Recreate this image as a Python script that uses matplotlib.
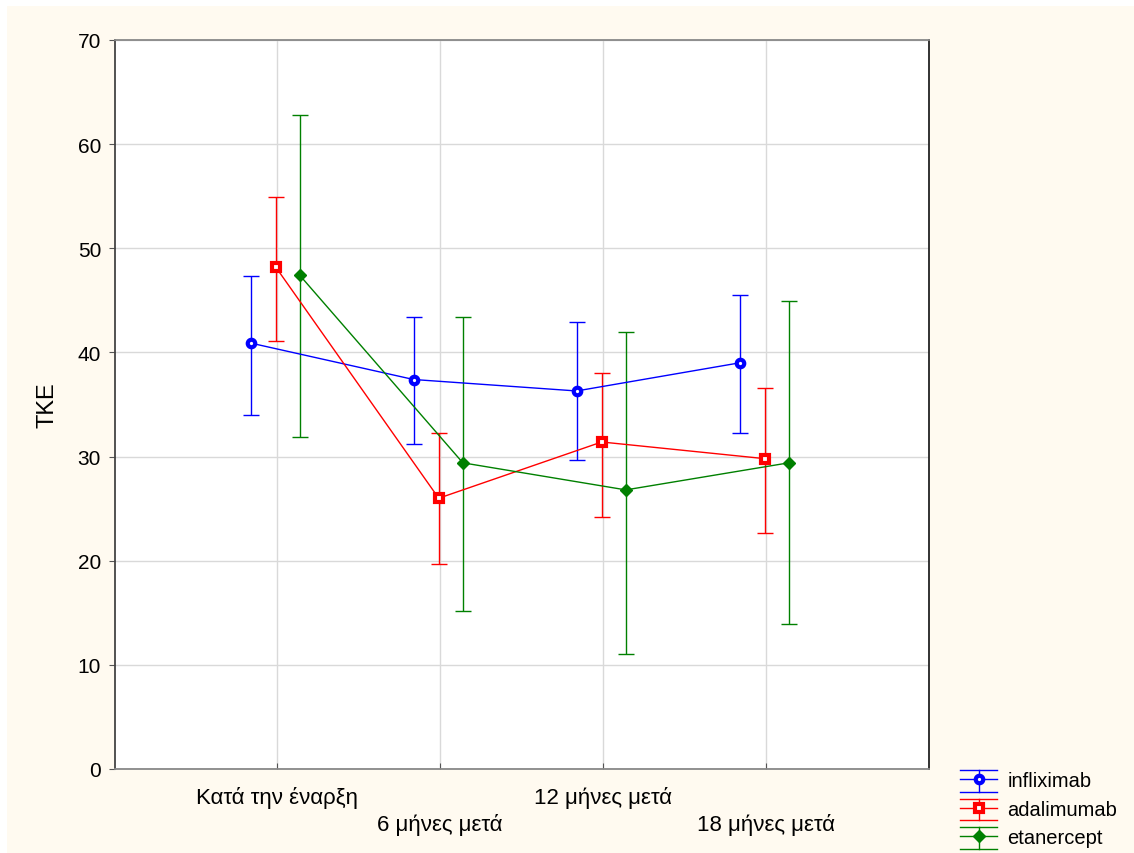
import matplotlib
matplotlib.use("Agg")
import matplotlib.pyplot as plt
import numpy as np
from matplotlib.patches import Rectangle
from matplotlib.lines import Line2D
from matplotlib.legend_handler import HandlerBase

plt.rcParams['font.family'] = ['Liberation Sans', 'DejaVu Sans']

categories = ["Κατά την έναρξη", "6 μήνες μετά", "12 μήνες μετά", "18 μήνες μετά"]
series = ["infliximab", "adalimumab", "etanercept"]

infliximab_mean = [40.9, 37.4, 36.3, 39.0]
infliximab_low = [34.0, 31.2, 29.7, 32.3]
infliximab_high = [47.3, 43.4, 42.9, 45.5]

adalimumab_mean = [48.2, 26.0, 31.4, 29.8]
adalimumab_low = [41.1, 19.7, 24.2, 22.7]
adalimumab_high = [54.9, 32.3, 38.0, 36.6]

etanercept_mean = [47.4, 29.4, 26.8, 29.4]
etanercept_low = [31.9, 15.2, 11.0, 13.9]
etanercept_high = [62.8, 43.4, 42.0, 44.9]

means = [infliximab_mean, adalimumab_mean, etanercept_mean]
lows = [infliximab_low, adalimumab_low, etanercept_low]
highs = [infliximab_high, adalimumab_high, etanercept_high]
colors = ["#0000FF", "#FF0000", "#008000"]
markers = ["o", "s", "D"]
offsets = [-0.162, -0.008, 0.14]


class Proxy:
    def __init__(self, color, marker, mfc, ms, mew):
        self.color, self.marker, self.mfc, self.ms, self.mew = color, marker, mfc, ms, mew


class ErrHandler(HandlerBase):
    def create_artists(self, legend, orig, xdescent, ydescent, width, height, fontsize, trans):
        x0, x1 = -xdescent, -xdescent + width
        yc = -ydescent + height / 2
        top = yc + 6.5
        bot = yc - 9.0
        xm = (x0 + x1) / 2
        arts = [
            Line2D([x0, x1], [yc, yc], color=orig.color, lw=1.0),
            Line2D([xm, xm], [bot, top], color=orig.color, lw=1.0),
            Line2D([x0, x1], [top, top], color=orig.color, lw=1.0),
            Line2D([x0, x1], [bot, bot], color=orig.color, lw=1.0),
            Line2D([xm], [yc], marker=orig.marker, markersize=orig.ms, markerfacecolor=orig.mfc,
                   markeredgecolor=orig.color, markeredgewidth=orig.mew, linestyle="none"),
        ]
        for a in arts:
            a.set_transform(trans)
        return arts


fig = plt.figure(figsize=(11.34, 8.54), dpi=100)
fig.patch.set_facecolor("white")
fig.patches.append(Rectangle((7/1134, 0), 1 - 7/1134, 1 - 7/854, transform=fig.transFigure,
                             facecolor="#FFFAF0", edgecolor="none", zorder=-10))

ax = fig.add_axes([115/1134, (854-770)/854, (929-115)/1134, (770-41)/854])
ax.set_facecolor("white")

x = np.arange(len(categories))
proxies = []
for m, lo, hi, c, mk, off, name in zip(means, lows, highs, colors, markers, offsets, series):
    m = np.array(m); lo = np.array(lo); hi = np.array(hi)
    yerr = np.vstack([m - lo, hi - m])
    if mk == "D":
        mfc, ms, mew = c, 6.0, 1.0
    else:
        mfc, ms, mew = "white", 5.4, 3.0
    ax.errorbar(x + off, m, yerr=yerr, color=c, fmt="none",
                elinewidth=1.0, capsize=6, capthick=1.0, zorder=3)
    ax.plot(x + off, m, color=c, linewidth=1.0, marker=mk, markersize=ms,
            markerfacecolor=mfc, markeredgecolor=c, markeredgewidth=mew, zorder=4)
    proxies.append(Proxy(c, mk, mfc, ms, mew))

ax.set_xlim(-0.994, 4.0)
ax.set_ylim(0, 70)
ax.set_yticks(np.arange(0, 71, 10))
ax.set_xticks(x)
ax.set_xticklabels(categories)
for i, t in enumerate(ax.get_xticklabels()):
    if i % 2 == 1:
        t.set_y(-0.037)
ax.tick_params(axis='x', direction='in', length=4, labelsize=16, pad=12, color="#555555")
ax.tick_params(axis='y', direction='out', length=4, labelsize=15, pad=6, color="#555555")
ax.grid(True, color="#D9D9D9", linewidth=1.0)
ax.set_axisbelow(True)
ax.set_ylabel("TKE", fontsize=17, labelpad=14)

ax.spines['left'].set_color("#444444")
ax.spines['bottom'].set_color("#888888")
ax.spines['top'].set_color("#888888")
ax.spines['right'].set_color("#222222")
for s in ax.spines.values():
    s.set_linewidth(1.3)

leg = fig.legend(handles=proxies, labels=series, loc="lower left",
                 handler_map={Proxy: ErrHandler()},
                 bbox_to_anchor=(950/1134, -4/854), frameon=False, fontsize=14.5,
                 handlelength=1.85, handleheight=1.0, handletextpad=0.5, labelspacing=0.42,
                 borderaxespad=0.1)

fig.savefig("out.png", dpi=100, facecolor=fig.get_facecolor())
